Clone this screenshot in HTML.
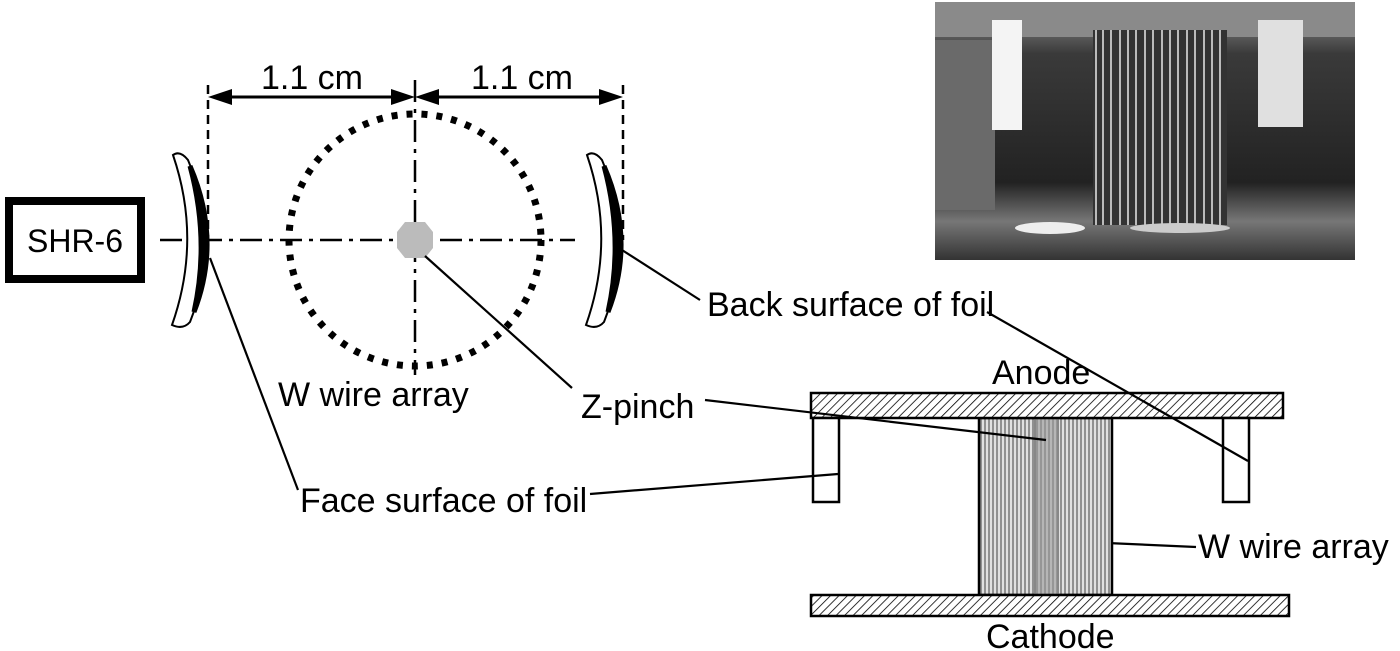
<!DOCTYPE html>
<html><head><meta charset="utf-8"><style>
html,body{margin:0;padding:0;background:#fff;}
svg{display:block;}
text{font-family:"Liberation Sans",Arial,sans-serif;font-size:34px;fill:#000;}
</style></head><body>
<svg width="1400" height="651" viewBox="0 0 1400 651" xmlns="http://www.w3.org/2000/svg">
<defs>
<pattern id="hatch" width="6" height="6" patternUnits="userSpaceOnUse" patternTransform="rotate(45)">
<rect width="6" height="6" fill="#fff"/><line x1="0" y1="0" x2="0" y2="6" stroke="#000" stroke-width="1.6"/></pattern>
<pattern id="wires" width="4" height="10" patternUnits="userSpaceOnUse">
<rect width="4" height="10" fill="#e0e0e0"/><line x1="1" y1="0" x2="1" y2="10" stroke="#666" stroke-width="1.3"/></pattern>
<linearGradient id="bg" x1="0" y1="0" x2="0" y2="1">
<stop offset="0" stop-color="#9a9a9a"/><stop offset="0.2" stop-color="#3a3a3a"/><stop offset="0.7" stop-color="#222"/><stop offset="0.85" stop-color="#777"/><stop offset="1" stop-color="#333"/></linearGradient>
</defs>
<!-- photo -->
<rect x="935" y="2" width="420" height="258" fill="url(#bg)"/>
<rect x="935" y="2" width="420" height="35" fill="#8a8a8a"/>
<rect x="935" y="40" width="60" height="170" fill="#6a6a6a"/>
<rect x="992" y="20" width="30" height="110" fill="#f4f4f4"/>
<rect x="1258" y="20" width="45" height="107" fill="#e0e0e0"/>
<rect x="1093" y="30" width="134" height="195" fill="#333"/>
<g stroke="#bbb" stroke-width="2">
<line x1="1096" y1="30" x2="1096" y2="225"/><line x1="1103" y1="30" x2="1103" y2="225"/><line x1="1111" y1="30" x2="1111" y2="225"/><line x1="1120" y1="30" x2="1120" y2="225"/><line x1="1128" y1="30" x2="1128" y2="225"/><line x1="1136" y1="30" x2="1136" y2="225"/><line x1="1145" y1="30" x2="1145" y2="225"/><line x1="1153" y1="30" x2="1153" y2="225"/><line x1="1162" y1="30" x2="1162" y2="225"/><line x1="1170" y1="30" x2="1170" y2="225"/><line x1="1178" y1="30" x2="1178" y2="225"/><line x1="1187" y1="30" x2="1187" y2="225"/><line x1="1195" y1="30" x2="1195" y2="225"/><line x1="1204" y1="30" x2="1204" y2="225"/><line x1="1212" y1="30" x2="1212" y2="225"/><line x1="1220" y1="30" x2="1220" y2="225"/></g>
<ellipse cx="1050" cy="228" rx="35" ry="6" fill="#eee"/>
<ellipse cx="1180" cy="228" rx="50" ry="5" fill="#ccc"/>

<!-- SHR-6 box -->
<rect x="9" y="201" width="132" height="78" fill="none" stroke="#000" stroke-width="8"/>
<text x="75" y="252" text-anchor="middle" style="font-size:32px">SHR-6</text>

<!-- dimension -->
<g stroke="#000" stroke-width="2.5" stroke-dasharray="9,6">
<line x1="208" y1="85" x2="208" y2="240"/><line x1="623" y1="85" x2="623" y2="240"/></g>
<line x1="220" y1="97" x2="405" y2="97" stroke="#000" stroke-width="3"/>
<line x1="425" y1="97" x2="611" y2="97" stroke="#000" stroke-width="3"/>
<polygon points="208,97 232,89 232,105"/><polygon points="415,97 391,89 391,105"/>
<polygon points="415,97 439,89 439,105"/><polygon points="623,97 599,89 599,105"/>
<text x="312" y="89" text-anchor="middle">1.1 cm</text>
<text x="522" y="89" text-anchor="middle">1.1 cm</text>

<!-- axes -->
<g stroke="#000" stroke-width="2.5" stroke-dasharray="22,7,4,7">
<line x1="160" y1="240" x2="575" y2="240"/>
<line x1="415" y1="80" x2="415" y2="375"/></g>
<!-- circle dots -->
<circle cx="415" cy="240" r="126" fill="none" stroke="#000" stroke-width="7" stroke-dasharray="6,9"/>
<polygon points="405,222 425,222 433,232 433,248 425,258 405,258 397,248 397,232" fill="#bbb"/>

<!-- foils -->
<path d="M173,155 Q180,150 188,160 Q222,240 190,322 Q183,330 172,325 Q202,240 173,155 Z" fill="#fff" stroke="#000" stroke-width="2"/>
<path d="M190,166 Q222,240 194,312 Q210,240 190,166 Z" fill="#000" stroke="#000" stroke-width="5"/>
<path d="M587,155 Q594,150 602,160 Q636,240 604,322 Q597,330 586,325 Q616,240 587,155 Z" fill="#fff" stroke="#000" stroke-width="2"/>
<path d="M604,166 Q636,240 608,312 Q624,240 604,166 Z" fill="#000" stroke="#000" stroke-width="5"/>

<!-- leader lines -->
<g stroke="#000" stroke-width="2.2" fill="none">
<line x1="210" y1="258" x2="298" y2="490"/>
<line x1="425" y1="256" x2="572" y2="388"/>
<line x1="622" y1="250" x2="700" y2="300"/>
<line x1="1107" y1="543" x2="1196" y2="547"/>
</g>

<!-- labels -->
<text x="278" y="406">W wire array</text>
<text x="581" y="418">Z-pinch</text>
<text x="707" y="316">Back surface of foil</text>
<text x="300" y="512">Face surface of foil</text>
<text x="992" y="384">Anode</text>
<text x="986" y="648">Cathode</text>
<text x="1198" y="558">W wire array</text>

<!-- side view -->
<rect x="979" y="418" width="133" height="177" fill="url(#wires)" stroke="#000" stroke-width="2.5"/>
<rect x="1035" y="418" width="23" height="180" fill="#999" fill-opacity="0.6" stroke="#888" stroke-width="2"/>
<rect x="811" y="393" width="472" height="25" fill="url(#hatch)" stroke="#000" stroke-width="2.5"/>
<rect x="811" y="595" width="478" height="21" fill="url(#hatch)" stroke="#000" stroke-width="2.5"/>
<rect x="813" y="418" width="26" height="84" fill="#fff" stroke="#000" stroke-width="2.5"/>
<rect x="1223" y="418" width="26" height="84" fill="#fff" stroke="#000" stroke-width="2.5"/>
<line x1="987" y1="312" x2="1248" y2="461" stroke="#000" stroke-width="2.2"/>
<line x1="705" y1="400" x2="1046" y2="440" stroke="#000" stroke-width="2.2"/>
<line x1="590" y1="494" x2="838" y2="474" stroke="#000" stroke-width="2.2"/>
</svg>
</body></html>
